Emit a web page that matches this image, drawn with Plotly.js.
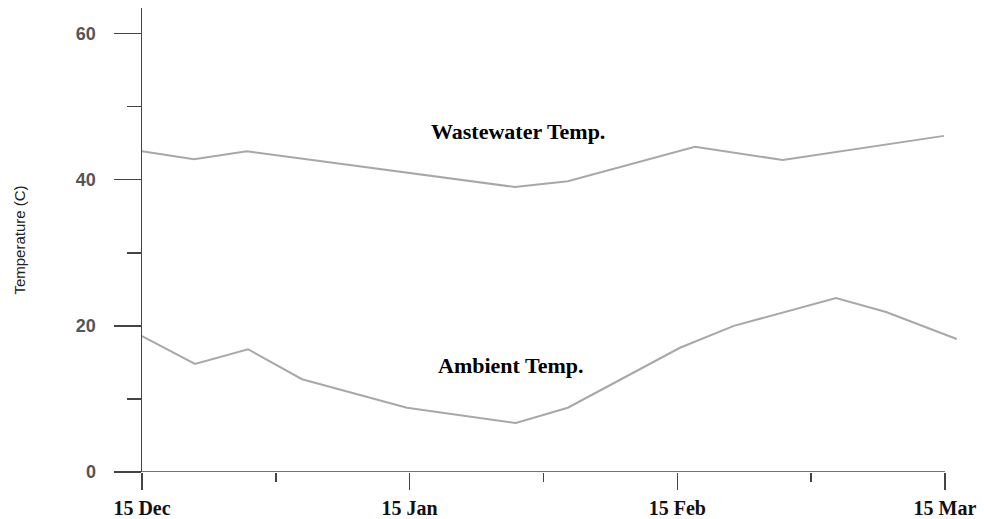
<!DOCTYPE html>
<html>
<head>
<meta charset="utf-8">
<script src="https://cdn.plot.ly/plotly-3.0.1.min.js"></script>
<style>
  html, body { margin: 0; padding: 0; background: #ffffff; }
  #chart { width: 984px; height: 519px; }
</style>
</head>
<body>
<div id="chart"></div>
<script>
// Time axis: months after 15 Dec
var tickPositions = [0, 1, 2, 3];
var tickLabels = ['15 Dec', '15 Jan', '15 Feb', '15 Mar'];

// Wastewater temperature (C)
var wastewaterX = [0, 0.194, 0.392, 1.393, 1.591, 2.066, 2.394, 2.996];
var wastewaterY = [43.9, 42.8, 43.9, 39.0, 39.8, 44.5, 42.7, 46.0];

// Ambient temperature (C)
var ambientX = [0, 0.198, 0.396, 0.598, 0.990, 1.397, 1.591, 2.010, 2.211, 2.593, 2.780, 2.989, 3.044];
var ambientY = [18.6, 14.8, 16.8, 12.7, 8.8, 6.7, 8.8, 17.0, 20.0, 23.8, 21.9, 18.9, 18.2];

var lineStyle = { color: '#a8a8a8', width: 2 };
var axisColor = '#444444';

var traces = [
  { x: wastewaterX, y: wastewaterY, type: 'scatter', mode: 'lines', name: 'Wastewater Temp.', line: lineStyle, hoverinfo: 'x+y' },
  { x: ambientX, y: ambientY, type: 'scatter', mode: 'lines', name: 'Ambient Temp.', line: lineStyle, hoverinfo: 'x+y' }
];

var layout = {
  width: 984,
  height: 519,
  margin: { l: 142, r: 23, t: 8, b: 47 },
  paper_bgcolor: '#ffffff',
  plot_bgcolor: '#ffffff',
  showlegend: false,
  xaxis: {
    range: [0, 3.06],
    showgrid: false,
    zeroline: false,
    showline: false,
    tickmode: 'array',
    tickvals: tickPositions,
    ticktext: tickLabels,
    ticks: 'outside',
    ticklen: 17,
    tickwidth: 1.5,
    tickcolor: axisColor,
    ticklabelstandoff: 1,
    tickfont: { family: '"Liberation Serif", "Times New Roman", serif', size: 20, color: '#111111', weight: 'bold' },
    minor: { tickmode: 'array', tickvals: [0.5, 1.5, 2.5], ticks: 'outside', ticklen: 9, tickwidth: 1.5, tickcolor: axisColor, showgrid: false }
  },
  yaxis: {
    range: [0, 63.5],
    showgrid: false,
    zeroline: false,
    showline: true,
    linecolor: axisColor,
    linewidth: 1.5,
    tickmode: 'array',
    tickvals: [0, 20, 40, 60],
    ticks: 'outside',
    ticklen: 27,
    tickwidth: 1.5,
    tickcolor: axisColor,
    ticklabelstandoff: 14,
    tickfont: { family: '"Liberation Sans", Arial, sans-serif', size: 18, color: '#555555', weight: 'bold' },
    minor: { tickmode: 'array', tickvals: [10, 30, 50], ticks: 'outside', ticklen: 14, tickwidth: 1.5, tickcolor: axisColor, showgrid: false },
    title: { text: 'Temperature (C)', standoff: 46, font: { family: '"Liberation Sans", Arial, sans-serif', size: 15, color: '#222222' } }
  },
  shapes: [
    { type: 'line', xref: 'x', yref: 'y', x0: 0, x1: 3, y0: 0, y1: 0, line: { color: axisColor, width: 1.5 } }
  ],
  annotations: [
    { text: 'Wastewater Temp.', xref: 'x', yref: 'y', x: 1.405, y: 46.6, showarrow: false,
      font: { family: '"Liberation Serif", "Times New Roman", serif', size: 22, color: '#000000', weight: 'bold' } },
    { text: 'Ambient Temp.', xref: 'x', yref: 'y', x: 1.375, y: 14.6, showarrow: false,
      font: { family: '"Liberation Serif", "Times New Roman", serif', size: 22, color: '#000000', weight: 'bold' } }
  ]
};

Plotly.newPlot('chart', traces, layout, { displayModeBar: false, staticPlot: true });
</script>
</body>
</html>
